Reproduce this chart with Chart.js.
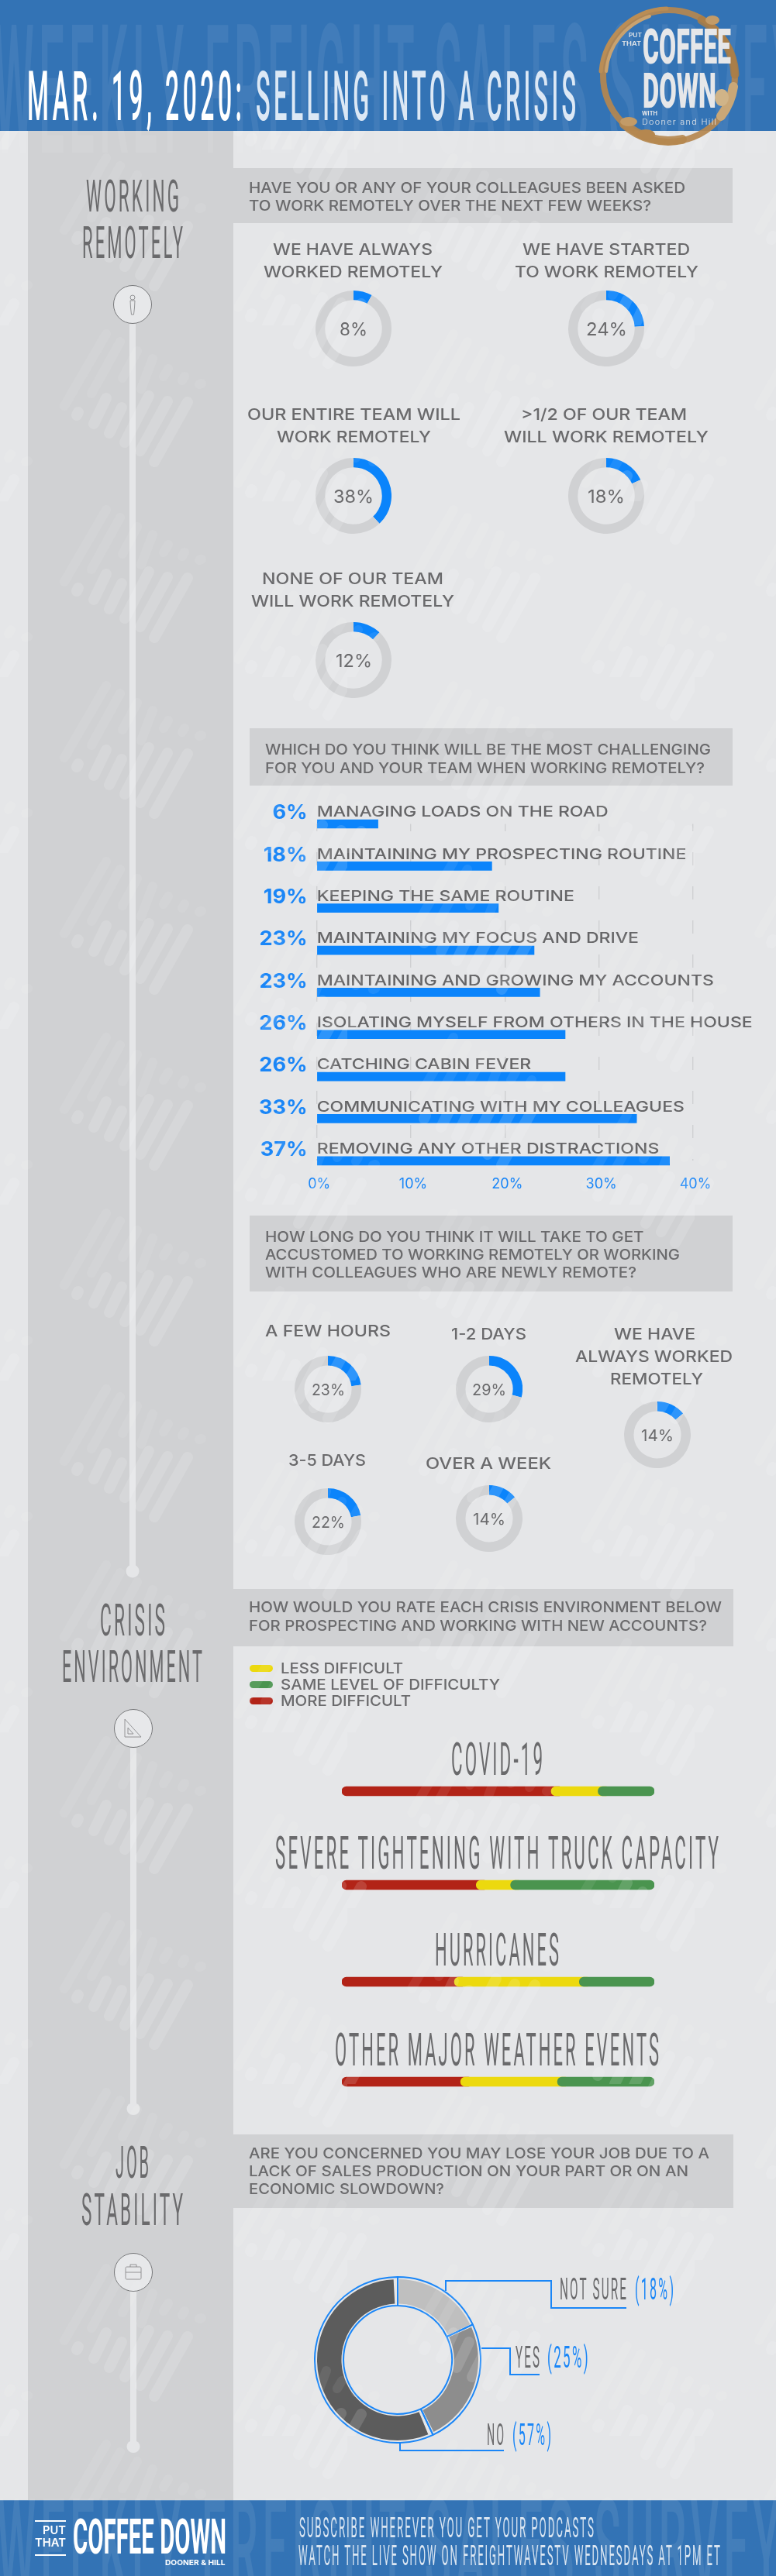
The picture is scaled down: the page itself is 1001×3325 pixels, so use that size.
<!DOCTYPE html>
<html>
<head>
<meta charset="utf-8">
<title>Selling into a crisis</title>
<script src="https://cdn.jsdelivr.net/npm/chart.js@4/dist/chart.umd.min.js"></script>
<style>
  html, body { margin: 0; padding: 0; background: #e5e6e8; }
  #stage { position: relative; width: 1001px; height: 3325px; overflow: hidden; background: #e5e6e8; }
  #stage > div.block { position: absolute; }
  canvas { position: absolute; z-index: 2; }
  svg.layer { position: absolute; left: 0; top: 0; pointer-events: none; }
  span.t { position: absolute; white-space: nowrap; transform-origin: 0 50%; z-index: 6; line-height: 1; }
</style>
</head>
<body>
<div id="stage">
  <div class="block" style="left:36px;top:169px;width:265px;height:3058px;background:#d0d1d3"></div>
  <div class="block" style="left:300px;top:217px;width:645px;height:71px;background:#d0d1d3"></div>
  <div class="block" style="left:322px;top:940px;width:623px;height:74px;background:#d0d1d3"></div>
  <div class="block" style="left:322px;top:1569px;width:623px;height:98px;background:#d0d1d3"></div>
  <div class="block" style="left:300px;top:2051px;width:646px;height:74px;background:#d0d1d3"></div>
  <div class="block" style="left:300px;top:2755px;width:646px;height:95px;background:#d0d1d3"></div>

  <!-- rails and round icons -->
  <svg class="layer" width="1001" height="3325" style="z-index:1">
    <g fill="#e5e6e8">
      <rect x="167" y="418" width="8" height="1610"/><ellipse cx="171" cy="2028" rx="8.5" ry="8.5"/>
      <rect x="168" y="2256" width="8" height="466"/><ellipse cx="172" cy="2722" rx="8.5" ry="8"/>
      <rect x="168" y="2957" width="8" height="201"/><ellipse cx="172" cy="3158" rx="8.5" ry="8"/>
    </g>
    <g fill="#e7e8ea" stroke="#77787a" stroke-width="1">
      <circle cx="171" cy="393" r="24.5"/><circle cx="172" cy="2231" r="24.5"/><circle cx="172" cy="2933" r="24.5"/>
    </g>
    <g fill="none" stroke="#8a8b8d" stroke-width=".9">
      <circle cx="171" cy="384" r="3"/><path d="M168 388h6l-.5 9-1 9h-3l-1-9z"/>
      <path d="M161 2219v23h21z M165 2238h7l-7-8z"/>
      <rect x="162" y="2926" width="20" height="16" rx="1.5"/><path d="M168 2926v-3h8v3M162 2933h20"/>
    </g>
  </svg>

  <!-- background streaks, sits over the charts like in the print -->
  <svg class="layer" width="1001" height="3325" style="z-index:3">
    <defs>
      <pattern id="streaks" patternUnits="userSpaceOnUse" width="448" height="227" patternTransform="translate(0,193)">
        <g stroke="#fff" stroke-linecap="round" fill="none" id="cl">
          <g stroke-opacity=".08" stroke-width="12">
            <path d="M83 104L137 11M118 88L155 21M158 68L177 33M182 82L197 43"/>
            <path d="M211 66L217 56M235 71L238 66M257 76L260 75"/>
          </g>
          <g stroke-opacity=".14" stroke-width="14">
            <path d="M99 116L101 112M121 127L137 94M141 139L157 106M161 151L192 91M181 162L216 98M199 176L242 99"/>
          </g>
          <g transform="translate(224,100)">
            <g stroke-opacity=".08" stroke-width="12">
              <path d="M83 104L137 11M118 88L155 21M158 68L177 33M182 82L197 43"/>
              <path d="M211 66L217 56M235 71L238 66M257 76L260 75"/>
            </g>
            <g stroke-opacity=".14" stroke-width="14">
              <path d="M99 116L101 112M121 127L137 94M141 139L157 106M161 151L192 91M181 162L216 98M199 176L242 99"/>
            </g>
          </g>
          <g transform="translate(-224,100)">
            <g stroke-opacity=".08" stroke-width="12">
              <path d="M182 82L197 43M211 66L217 56M235 71L238 66M257 76L260 75"/>
            </g>
            <g stroke-opacity=".14" stroke-width="14">
              <path d="M161 151L192 91M181 162L216 98M199 176L242 99"/>
            </g>
          </g>
          <g transform="translate(224,-127)">
            <g stroke-opacity=".08" stroke-width="12">
              <path d="M83 104L137 11M118 88L155 21M158 68L177 33M182 82L197 43"/>
            </g>
            <g stroke-opacity=".14" stroke-width="14">
              <path d="M161 151L192 91M181 162L216 98M199 176L242 99"/>
            </g>
          </g>
        </g>
      </pattern>
    </defs>
    <rect x="0" y="169" width="1001" height="3058" fill="url(#streaks)"/>
  </svg>

  <!-- header and footer bands -->
  <div class="block" style="left:0;top:0;width:1001px;height:169px;background:#3373b5;z-index:4"></div>
  <div class="block" style="left:0;top:3227px;width:1001px;height:98px;background:#3373b5;z-index:4;border-top:1px solid #5c8fc4;box-sizing:border-box"></div>

  <!-- leader lines for the job donut, and the coffee stain -->
  <svg class="layer" width="1001" height="3325" style="z-index:5">
    <g fill="none" stroke="#1a86f7" stroke-width="2">
      <path d="M575 2957V2944H711V2979H808"/>
      <path d="M621 3031H658V3065H696"/>
      <path d="M516 3152V3163H650"/>
    </g>
    <g fill="none" stroke-linecap="round">
      <circle cx="863" cy="98" r="85" stroke="#b5874f" stroke-width="8" stroke-opacity=".92"/>
      <path d="M782 92A82 82 0 0 1 838 21" stroke="#c9a26f" stroke-width="4"/>
      <path d="M775 92A88 88 0 0 1 860 11" stroke="#ba8d55" stroke-width="5"/>
      <path d="M905 26A85 85 0 0 1 948 96" stroke="#a97c45" stroke-width="11" stroke-opacity=".85"/>
      <path d="M805 160A85 85 0 0 0 880 180" stroke="#b5874f" stroke-width="12" stroke-opacity=".9"/>
      <path d="M930 150A85 85 0 0 0 946 112" stroke="#c9a777" stroke-width="12"/>
    </g>
    <g fill="#c39b67">
      <ellipse cx="919" cy="26" rx="9" ry="6"/>
      <ellipse cx="931" cy="126" rx="9" ry="11" fill="#d0b488"/>
      <ellipse cx="811" cy="157" rx="11" ry="6"/>
      <ellipse cx="833" cy="174" rx="12" ry="7" fill="#b5874f"/>
    </g>
  </svg>
</div>

<script>
// survey numbers
const remoteLabels = [
  ["WE HAVE ALWAYS", "WORKED REMOTELY"],
  ["WE HAVE STARTED", "TO WORK REMOTELY"],
  ["OUR ENTIRE TEAM WILL", "WORK REMOTELY"],
  [">1/2 OF OUR TEAM", "WILL WORK REMOTELY"],
  ["NONE OF OUR TEAM", "WILL WORK REMOTELY"]
];
const remoteValues = [8, 24, 38, 18, 12];

const challengeLabels = [
  "MANAGING LOADS ON THE ROAD",
  "MAINTAINING MY PROSPECTING ROUTINE",
  "KEEPING THE SAME ROUTINE",
  "MAINTAINING MY FOCUS AND DRIVE",
  "MAINTAINING AND GROWING MY ACCOUNTS",
  "ISOLATING MYSELF FROM OTHERS IN THE HOUSE",
  "CATCHING CABIN FEVER",
  "COMMUNICATING WITH MY COLLEAGUES",
  "REMOVING ANY OTHER DISTRACTIONS"
];
const challengeValues = [6.5, 18.6, 19.3, 23.1, 23.7, 26.4, 26.4, 34, 37.5];
const challengePercents = ["6%", "18%", "19%", "23%", "23%", "26%", "26%", "33%", "37%"];

const adjustLabels = ["A FEW HOURS", "1-2 DAYS", "3-5 DAYS", "OVER A WEEK"];
const adjustAlwaysLabel = ["WE HAVE", "ALWAYS WORKED", "REMOTELY"];
const adjustValues = [23, 29, 22, 14, 14];

const crisisNames = ["COVID-19", "SEVERE TIGHTENING WITH TRUCK CAPACITY", "HURRICANES", "OTHER MAJOR WEATHER EVENTS"];
const moreDifficult = [67, 43, 36, 38];
const lessDifficult = [15, 11, 40, 31];
const sameLevel = [18, 46, 24, 31];
const legendNames = ["LESS DIFFICULT", "SAME LEVEL OF DIFFICULTY", "MORE DIFFICULT"];

const jobLabels = ["NOT SURE", "YES", "NO"];
const jobValues = [18, 25, 57];

const BLUE = "#0b84fb";
const GREY_TEXT = "#6a6a6c";
const TRACK = "#d0d1d3";
const YELLOW = "#ecd90e";
const GREEN = "#4a944f";
const RED = "#b22317";

const stage = document.getElementById("stage");
Chart.defaults.animation = false;
Chart.defaults.events = [];
Chart.defaults.plugins.legend.display = false;
Chart.defaults.plugins.tooltip.enabled = false;

// text squeezed or stretched to the width it has in the reference
function addText(str, o) {
  const font = o.font || "Inter";
  const ratio = font === "Inter" ? 0.727 : 0.711;
  const size = o.cap / ratio;
  const spacing = o.ls || 0;
  const el = document.createElement("span");
  el.className = "t";
  el.textContent = str;
  el.style.fontFamily = '"' + font + '", sans-serif';
  el.style.fontSize = size + "px";
  el.style.fontWeight = o.weight || 500;
  el.style.letterSpacing = spacing + "em";
  el.style.color = o.color || GREY_TEXT;
  if (o.z) el.style.zIndex = o.z;
  stage.appendChild(el);
  const natural = el.getBoundingClientRect().width - spacing * size;
  const left = o.left !== undefined ? o.left : o.cx - o.w / 2;
  el.style.left = left + "px";
  el.style.top = (o.y - size / 2) + "px";
  el.style.transform = "scaleX(" + (o.w / natural) + ")";
  return el;
}

// the tall thin display face
function addTall(str, o) {
  return addText(str, Object.assign({ font: "Roboto", weight: 400, ls: 0.14 }, o));
}

function makeCanvas(left, top, w, h) {
  const c = document.createElement("canvas");
  c.width = w;
  c.height = h;
  c.style.left = left + "px";
  c.style.top = top + "px";
  stage.appendChild(c);
  return c;
}

function smallDonut(cx, cy, r, cutout, value, textW, textCap) {
  const c = makeCanvas(cx - r, cy - r, r * 2, r * 2);
  new Chart(c, {
    type: "doughnut",
    data: { datasets: [{ data: [value, 100 - value], backgroundColor: [BLUE, TRACK], borderWidth: 0, hoverOffset: 0 }] },
    options: { responsive: false, cutout: cutout }
  });
  addText(value + "%", { cx: cx, y: cy + 1, w: textW, cap: textCap, weight: 400 });
}

function crisisBar(i, centerY) {
  const c = makeCanvas(441, Math.round(centerY - 7), 403, 14);
  const red = moreDifficult[i], yel = lessDifficult[i];
  new Chart(c, {
    type: "bar",
    data: {
      labels: [crisisNames[i]],
      datasets: [
        { label: "same", data: [[red + yel, red + yel + sameLevel[i]]], backgroundColor: GREEN },
        { label: "less", data: [[red, red + yel + 4]], backgroundColor: YELLOW },
        { label: "more", data: [[0, red + 4]], backgroundColor: RED }
      ]
    },
    options: {
      indexAxis: "y",
      responsive: false,
      datasets: { bar: { grouped: false, barThickness: 12, borderRadius: 6, borderSkipped: false } },
      layout: { padding: 0 },
      scales: {
        x: { display: false, min: 0, max: 100 },
        y: { display: false }
      }
    }
  });
}

// ---- header ----
addTall("WEEKLY FREIGHT SALES SURVEY", { left: -8, y: 118, w: 1040, cap: 165, weight: 500, ls: 0.1, color: "rgba(255,255,255,.07)", z: 4 }).style.clipPath = "inset(0 0 18px 0)";
addTall("MAR. 19, 2020:", { left: 35, y: 125, w: 277, cap: 63, weight: 500, color: "#ffffff" });
addTall("SELLING INTO A CRISIS", { left: 330, y: 125, w: 413, cap: 63, weight: 500, color: "#dce8f5" });
addText("PUT", { left: 811, y: 46, w: 17, cap: 5, weight: 600, color: "#e6e7e9" });
addText("THAT", { left: 802, y: 57, w: 25, cap: 5, weight: 600, color: "#e6e7e9" });
addText("COFFEE", { left: 829, y: 60.5, w: 114, cap: 45, font: "Roboto", weight: 900, color: "#e6e7e9" });
addText("DOWN", { left: 829, y: 117.5, w: 95, cap: 45, font: "Roboto", weight: 900, color: "#e6e7e9" });
addText("WITH", { left: 828, y: 147, w: 20, cap: 5, weight: 700, color: "#e6e7e9" });
addText("Dooner and Hill", { left: 828, y: 158, w: 96, cap: 7, weight: 300, ls: 0.12, color: "#e6e7e9" });

// ---- working remotely ----
addTall("WORKING", { cx: 170.5, y: 254, w: 120, cap: 41 });
addTall("REMOTELY", { cx: 170.5, y: 314, w: 130, cap: 41 });
addText("HAVE YOU OR ANY OF YOUR COLLEAGUES BEEN ASKED", { left: 320.5, y: 242, w: 563, cap: 13.5 });
addText("TO WORK REMOTELY OVER THE NEXT FEW WEEKS?", { left: 320.5, y: 265, w: 519, cap: 13.5 });

addText(remoteLabels[0][0], { cx: 455, y: 323, w: 206, cap: 14.5 });
addText(remoteLabels[0][1], { cx: 455, y: 352, w: 231, cap: 14.5 });
addText(remoteLabels[1][0], { cx: 782, y: 323, w: 216, cap: 14.5 });
addText(remoteLabels[1][1], { cx: 782, y: 352, w: 237, cap: 14.5 });
addText(remoteLabels[2][0], { cx: 456, y: 536, w: 275, cap: 14.5 });
addText(remoteLabels[2][1], { cx: 456, y: 565, w: 199, cap: 14.5 });
addText(remoteLabels[3][0], { cx: 779, y: 536, w: 214, cap: 14.5 });
addText(remoteLabels[3][1], { cx: 782, y: 565, w: 264, cap: 14.5 });
addText(remoteLabels[4][0], { cx: 455, y: 748, w: 234, cap: 14.5 });
addText(remoteLabels[4][1], { cx: 455, y: 777, w: 262, cap: 14.5 });

smallDonut(456, 424, 49, "75%", remoteValues[0], 36, 17);
smallDonut(782, 424, 49, "75%", remoteValues[1], 53, 17);
smallDonut(456, 640, 49, "75%", remoteValues[2], 52, 17);
smallDonut(782, 640, 49, "75%", remoteValues[3], 48, 17);
smallDonut(456, 852, 49, "75%", remoteValues[4], 47, 17);

addText("WHICH DO YOU THINK WILL BE THE MOST CHALLENGING", { left: 341.6, y: 967, w: 575, cap: 13.5 });
addText("FOR YOU AND YOUR TEAM WHEN WORKING REMOTELY?", { left: 341.6, y: 991, w: 567, cap: 13.5 });

// bar chart: labels sit above each bar, percentages to the left
const barLabels = {
  id: "barLabels",
  afterDatasetsDraw(chart) {
    const ctx = chart.ctx;
    const zero = chart.scales.x.getPixelForValue(0);
    const squeezed = (txt, x, y, sx, align) => {
      ctx.save();
      ctx.translate(x, y);
      ctx.scale(sx, 1);
      ctx.textAlign = align;
      ctx.textBaseline = "middle";
      ctx.fillText(txt, 0, 0);
      ctx.restore();
    };
    ctx.save();
    ctx.font = '500 19.3px "Inter", sans-serif';
    const labelScale = 562 / ctx.measureText(challengeLabels[5]).width;
    ctx.fillStyle = "#656567";
    chart.getDatasetMeta(0).data.forEach((bar, i) => {
      squeezed(challengeLabels[i], zero, bar.y - 15, labelScale, "left");
    });
    ctx.font = '700 26px "Inter", sans-serif';
    const pctScale = 61 / ctx.measureText(challengePercents[8]).width;
    ctx.fillStyle = "#1a86f7";
    chart.getDatasetMeta(0).data.forEach((bar, i) => {
      squeezed(challengePercents[i], zero - 12, bar.y - 14, pctScale, "right");
    });
    ctx.restore();
  }
};

new Chart(makeCanvas(300, 1038, 701, 501), {
  type: "bar",
  data: {
    labels: challengeLabels,
    datasets: [{ data: challengeValues, backgroundColor: BLUE, barThickness: 11, clip: false }]
  },
  options: {
    indexAxis: "y",
    responsive: false,
    layout: { padding: { left: 108.7, right: 107, top: 25.5, bottom: 0 } },
    scales: {
      x: {
        min: 0,
        max: 40,
        afterFit(scale) { scale.height = 40.7; },
        grid: { color: "#cfd0d2", lineWidth: 1.4, drawTicks: false },
        border: { display: false, dash: [17, 27], dashOffset: 7.5 },
        ticks: {
          stepSize: 10,
          padding: 19,
          labelOffset: 3,
          color: "#1a86f7",
          font: { family: "Inter", size: 18, weight: "400" },
          callback: v => v + "%"
        }
      },
      y: { display: false, offset: false }
    }
  },
  plugins: [barLabels]
});

addText("HOW LONG DO YOU THINK IT WILL TAKE TO GET", { left: 341.6, y: 1596.7, w: 488.5, cap: 13.5 });
addText("ACCUSTOMED TO WORKING REMOTELY OR WORKING", { left: 341.6, y: 1619.7, w: 535, cap: 13.5 });
addText("WITH COLLEAGUES WHO ARE NEWLY REMOTE?", { left: 341.6, y: 1642.7, w: 479, cap: 13.5 });

addText(adjustLabels[0], { cx: 422.7, y: 1719, w: 162, cap: 14.5 });
addText(adjustLabels[1], { cx: 630, y: 1723, w: 97, cap: 14.5 });
addText(adjustLabels[2], { cx: 422, y: 1886, w: 100, cap: 14.5 });
addText(adjustLabels[3], { cx: 630, y: 1890, w: 162, cap: 14.5 });
addText(adjustAlwaysLabel[0], { cx: 844, y: 1723, w: 105, cap: 14.5 });
addText(adjustAlwaysLabel[1], { cx: 843.5, y: 1752, w: 203, cap: 14.5 });
addText(adjustAlwaysLabel[2], { cx: 847, y: 1781, w: 120, cap: 14.5 });

smallDonut(423, 1793, 43, "71%", adjustValues[0], 43, 15);
smallDonut(631, 1793, 43, "71%", adjustValues[1], 44, 15);
smallDonut(423, 1964, 43, "71%", adjustValues[2], 43, 15);
smallDonut(631, 1960, 43, "71%", adjustValues[3], 42, 15);
smallDonut(848, 1852, 43, "71%", adjustValues[4], 42, 15);

// ---- crisis environment ----
addTall("CRISIS", { cx: 170.5, y: 2091.5, w: 84, cap: 41 });
addTall("ENVIRONMENT", { cx: 170.5, y: 2152, w: 181, cap: 41 });
addText("HOW WOULD YOU RATE EACH CRISIS ENVIRONMENT BELOW", { left: 320.5, y: 2075, w: 610, cap: 14 });
addText("FOR PROSPECTING AND WORKING WITH NEW ACCOUNTS?", { left: 320.5, y: 2098.5, w: 591, cap: 14 });

// legend swatches are plain pills
[YELLOW, GREEN, RED].forEach((col, i) => {
  const s = document.createElement("div");
  s.className = "block";
  s.style.cssText = "left:322px;top:" + (2149 + i * 21) + "px;width:30px;height:9px;border-radius:5px;z-index:2;background:" + col;
  stage.appendChild(s);
});
addText(legendNames[0], { left: 362, y: 2154, w: 158, cap: 14 });
addText(legendNames[1], { left: 362, y: 2175, w: 283, cap: 14 });
addText(legendNames[2], { left: 362, y: 2196, w: 168, cap: 14 });

addTall(crisisNames[0], { cx: 640.5, y: 2271, w: 118, cap: 42 });
addTall(crisisNames[1], { cx: 640.5, y: 2392, w: 572, cap: 42 });
addTall(crisisNames[2], { cx: 640.5, y: 2517, w: 160, cap: 42 });
addTall(crisisNames[3], { cx: 640.5, y: 2646, w: 418, cap: 42 });
crisisBar(0, 2312.3);
crisisBar(1, 2433.3);
crisisBar(2, 2558.3);
crisisBar(3, 2687.3);

// ---- job stability ----
addTall("JOB", { cx: 170.5, y: 2792, w: 43, cap: 41 });
addTall("STABILITY", { cx: 170.5, y: 2853, w: 131, cap: 41 });
addText("ARE YOU CONCERNED YOU MAY LOSE YOUR JOB DUE TO A", { left: 320.5, y: 2780, w: 594, cap: 14 });
addText("LACK OF SALES PRODUCTION ON YOUR PART OR ON AN", { left: 320.5, y: 2802.7, w: 567, cap: 14 });
addText("ECONOMIC SLOWDOWN?", { left: 320.5, y: 2825.8, w: 252, cap: 14 });

// blue outline underneath, grey ring on top with gaps showing the outline
new Chart(makeCanvas(405, 2938, 216, 216), {
  type: "doughnut",
  data: { labels: jobLabels, datasets: [{ data: jobValues, backgroundColor: "transparent", borderColor: "#1a86f7", borderWidth: 2, hoverOffset: 0 }] },
  options: { responsive: false, cutout: "65.4%" }
});
new Chart(makeCanvas(409, 2942, 208, 208), {
  type: "doughnut",
  data: { labels: jobLabels, datasets: [{ data: jobValues, backgroundColor: ["#bfbfbf", "#8d8d8d", "#5c5c5c"], borderWidth: 0, spacing: 5, hoverOffset: 0 }] },
  options: { responsive: false, cutout: "69%" }
});

addTall(jobLabels[0], { left: 721.6, y: 2955, w: 86, cap: 28 });
addTall("(" + jobValues[0] + "%)", { left: 818.6, y: 2955, w: 50, cap: 28, color: "#1a86f7" });
addTall(jobLabels[1], { left: 664.7, y: 3042.5, w: 31, cap: 28 });
addTall("(" + jobValues[1] + "%)", { left: 706, y: 3042.5, w: 52.6, cap: 28, color: "#1a86f7" });
addTall(jobLabels[2], { left: 628, y: 3143, w: 22, cap: 28 });
addTall("(" + jobValues[2] + "%)", { left: 661, y: 3143, w: 50, cap: 28, color: "#1a86f7" });

// ---- footer ----
addTall("WEEKLY FREIGHT SALES SURVEY", { left: -4, y: 3290, w: 1010, cap: 124, weight: 500, ls: 0.1, color: "rgba(255,255,255,.08)", z: 4 }).style.clipPath = "inset(8px 0 0 0)";
addText("PUT", { left: 55, y: 3266, w: 30, cap: 11, weight: 600, color: "#ffffff" });
addText("THAT", { left: 45, y: 3282, w: 40, cap: 11, weight: 600, color: "#ffffff" });
addText("COFFEE DOWN", { left: 94, y: 3274.5, w: 198, cap: 45, font: "Roboto", weight: 700, color: "#ffffff" });
addText("DOONER & HILL", { left: 213, y: 3308, w: 77.5, cap: 7, weight: 700, color: "#ffffff" });
addTall("SUBSCRIBE WHEREVER YOU GET YOUR PODCASTS", { left: 386, y: 3263.5, w: 380, cap: 26, color: "#dbe6f2" });
addTall("WATCH THE LIVE SHOW ON FREIGHTWAVESTV WEDNESDAYS AT 1PM ET", { left: 385, y: 3299, w: 544, cap: 26, color: "#dbe6f2" });
[3253, 3297].forEach(y => {
  const line = document.createElement("div");
  line.className = "block";
  line.style.cssText = "left:45px;top:" + y + "px;width:40px;height:2px;z-index:6;background:#fff";
  stage.appendChild(line);
});
</script>
</body>
</html>
